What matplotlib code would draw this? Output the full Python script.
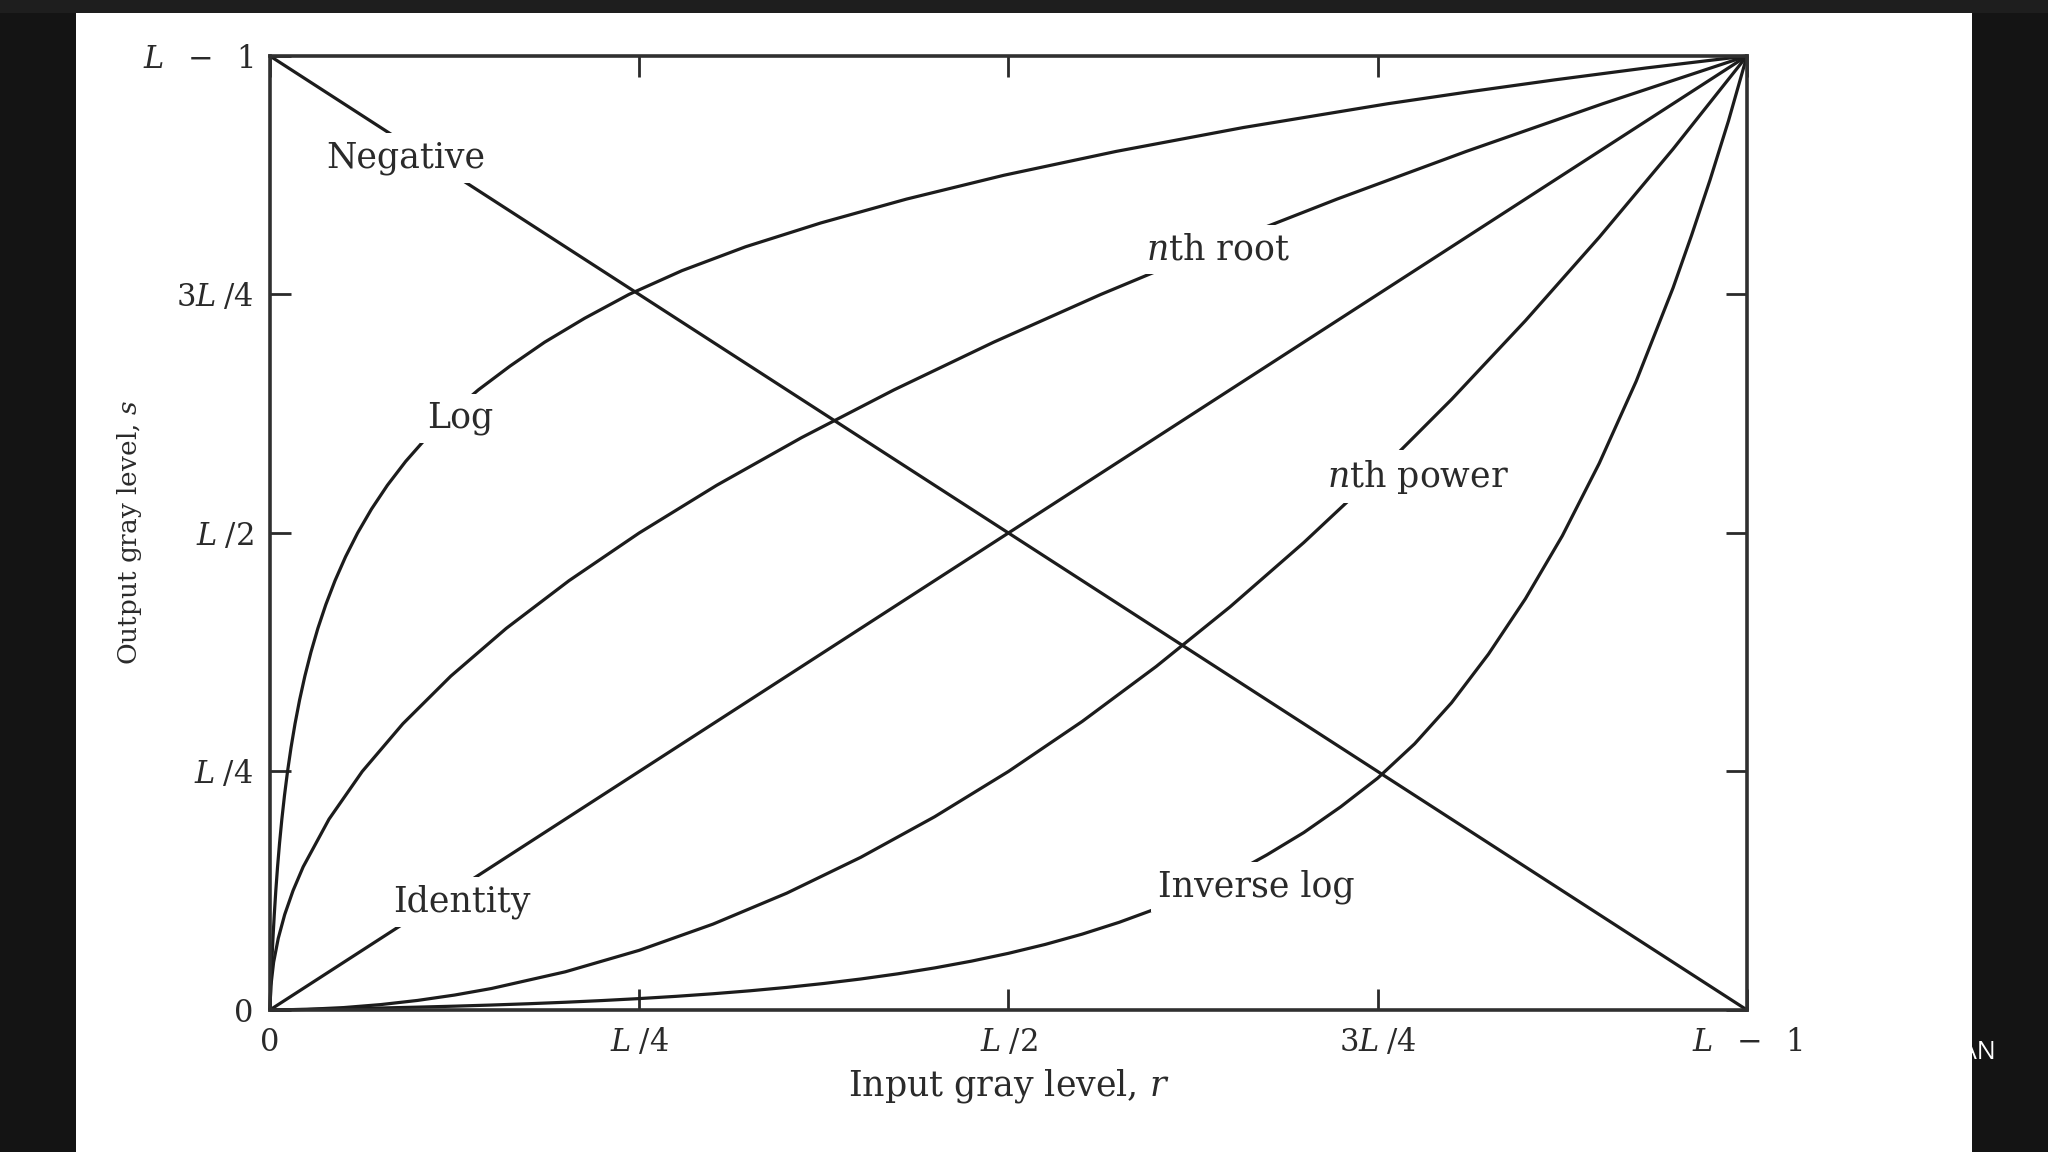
import matplotlib.pyplot as plt
from matplotlib.patches import Rectangle

plt.rcParams['font.family'] = ['DejaVu Serif']
plt.rcParams['mathtext.fontset'] = 'dejavuserif'

# input level r and output level s, both as a fraction of L-1
identity_r = [0.0, 1.0]
identity_s = [0.0, 1.0]
negative_r = [0.0, 1.0]
negative_s = [1.0, 0.0]

log_r = [0, 0.00059, 0.00127, 0.00205, 0.00295, 0.00398, 0.00516, 0.00652, 0.00808,
         0.00987, 0.01192, 0.01428, 0.01699, 0.02009, 0.02366, 0.02776, 0.03246,
         0.03786, 0.04406, 0.05118, 0.05936, 0.06874, 0.07952, 0.09189, 0.1061,
         0.1224, 0.1411, 0.1626, 0.186, 0.213, 0.243, 0.279, 0.322, 0.373, 0.431,
         0.497, 0.573, 0.659, 0.757, 0.812, 0.870, 0.932, 1.0]
log_s = [0, 0.025, 0.05, 0.075, 0.10, 0.125, 0.15, 0.175, 0.20,
         0.225, 0.25, 0.275, 0.30, 0.325, 0.35, 0.375, 0.40,
         0.425, 0.45, 0.475, 0.50, 0.525, 0.55, 0.575, 0.60,
         0.625, 0.65, 0.675, 0.70, 0.725, 0.75, 0.775, 0.80, 0.825, 0.85,
         0.875, 0.90, 0.925, 0.95, 0.9625, 0.975, 0.9875, 1.0]

inv_log_r = [0, 0.025, 0.05, 0.075, 0.10, 0.125, 0.15, 0.175, 0.20,
             0.225, 0.25, 0.275, 0.30, 0.325, 0.35, 0.375, 0.40,
             0.425, 0.45, 0.475, 0.50, 0.525, 0.55, 0.575, 0.60,
             0.625, 0.65, 0.675, 0.70, 0.725, 0.75, 0.775, 0.80, 0.825, 0.85,
             0.875, 0.90, 0.925, 0.95, 0.9625, 0.975, 0.9875, 1.0]
inv_log_s = [0, 0.00059, 0.00127, 0.00205, 0.00295, 0.00398, 0.00516, 0.00652, 0.00808,
             0.00987, 0.01192, 0.01428, 0.01699, 0.02009, 0.02366, 0.02776, 0.03246,
             0.03786, 0.04406, 0.05118, 0.05936, 0.06874, 0.07952, 0.09189, 0.1061,
             0.1224, 0.1411, 0.1626, 0.186, 0.213, 0.243, 0.279, 0.322, 0.373, 0.431,
             0.497, 0.573, 0.659, 0.757, 0.812, 0.870, 0.932, 1.0]

root_r = [0, 0.000625, 0.0025, 0.005625, 0.01, 0.015625, 0.0225, 0.04, 0.0625, 0.09,
          0.1225, 0.16, 0.2025, 0.25, 0.3025, 0.36, 0.4225, 0.49, 0.5625, 0.64,
          0.7225, 0.81, 0.9025, 1.0]
root_s = [0, 0.025, 0.05, 0.075, 0.10, 0.125, 0.15, 0.20, 0.25, 0.30,
          0.35, 0.40, 0.45, 0.50, 0.55, 0.60, 0.65, 0.70, 0.75, 0.80,
          0.85, 0.90, 0.95, 1.0]

power_r = [0, 0.025, 0.05, 0.075, 0.10, 0.125, 0.15, 0.20, 0.25, 0.30,
           0.35, 0.40, 0.45, 0.50, 0.55, 0.60, 0.65, 0.70, 0.75, 0.80,
           0.85, 0.90, 0.95, 1.0]
power_s = [0, 0.000625, 0.0025, 0.005625, 0.01, 0.015625, 0.0225, 0.04, 0.0625, 0.09,
           0.1225, 0.16, 0.2025, 0.25, 0.3025, 0.36, 0.4225, 0.49, 0.5625, 0.64,
           0.7225, 0.81, 0.9025, 1.0]

tick_pos = [0, 0.25, 0.5, 0.75, 1.0]
x_tick_labels = ['0', r'$L\;/4$', r'$L\;/2$', r'$3L\;/4$', r'$L\;\ -\;\ 1$']
y_tick_labels = ['0', r'$L\;/4$', r'$L\;/2$', r'$3L\;/4$', r'$L\;\ -\;\ 1$']

curve_labels = ['Negative', 'Log', r'$n$th root', r'$n$th power', 'Identity', 'Inverse log']
label_r = [0.092, 0.129, 0.642, 0.777, 0.130, 0.668]
label_s = [0.893, 0.620, 0.797, 0.559, 0.113, 0.129]

fig = plt.figure(figsize=(20.48, 11.52), dpi=100, facecolor='#141414')
fig.patches.append(Rectangle((0, 0.9887), 1, 0.0113, transform=fig.transFigure,
                             facecolor='#1e1e1e', edgecolor='none', zorder=-2))
fig.text(0.9746, 0.0868, 'AN', color='white', fontsize=18, family='Open Sans',
         ha='right', va='center', zorder=-1)
fig.patches.append(Rectangle((0.0371, 0), 0.9258, 0.9887, transform=fig.transFigure,
                             facecolor='white', edgecolor='none', zorder=-0.5))

ax = fig.add_axes([0.1318, 0.1233, 0.7212, 0.8281])
ax.set_facecolor('white')

line_kw = dict(color='#1c1c1c', lw=2.3, clip_on=False, solid_capstyle='butt',
               solid_joinstyle='round')
ax.plot(negative_r, negative_s, **line_kw)
ax.plot(identity_r, identity_s, **line_kw)
ax.plot(log_r, log_s, **line_kw)
ax.plot(inv_log_r, inv_log_s, **line_kw)
ax.plot(root_r, root_s, **line_kw)
ax.plot(power_r, power_s, **line_kw)

for txt, r, s in zip(curve_labels, label_r, label_s):
    ax.text(r, s, txt, fontsize=25, color='#2a2a2a', ha='center', va='center', zorder=5,
            bbox=dict(boxstyle='square,pad=0.22', facecolor='white', edgecolor='none'))

ax.set_xlim(0, 1)
ax.set_ylim(0, 1)
ax.set_xticks(tick_pos)
ax.set_xticklabels(x_tick_labels)
ax.set_yticks(tick_pos)
ax.set_yticklabels(y_tick_labels)
ax.tick_params(direction='in', length=15, width=2, color='#2a2a2a', labelsize=22,
               labelcolor='#2a2a2a', top=True, right=True)
ax.tick_params(axis='x', pad=12)
ax.tick_params(axis='y', pad=12)
for sp in ax.spines.values():
    sp.set_linewidth(2.6)
    sp.set_color('#303030')

ax.set_xlabel('Input gray level, $r$', fontsize=25, color='#2a2a2a')
ax.xaxis.set_label_coords(0.5, -0.060)
ax.set_ylabel('Output gray level, $s$', fontsize=19, color='#2a2a2a')
ax.yaxis.set_label_coords(-0.085, 0.5)

fig.savefig('out.png', dpi=100, facecolor=fig.get_facecolor())
